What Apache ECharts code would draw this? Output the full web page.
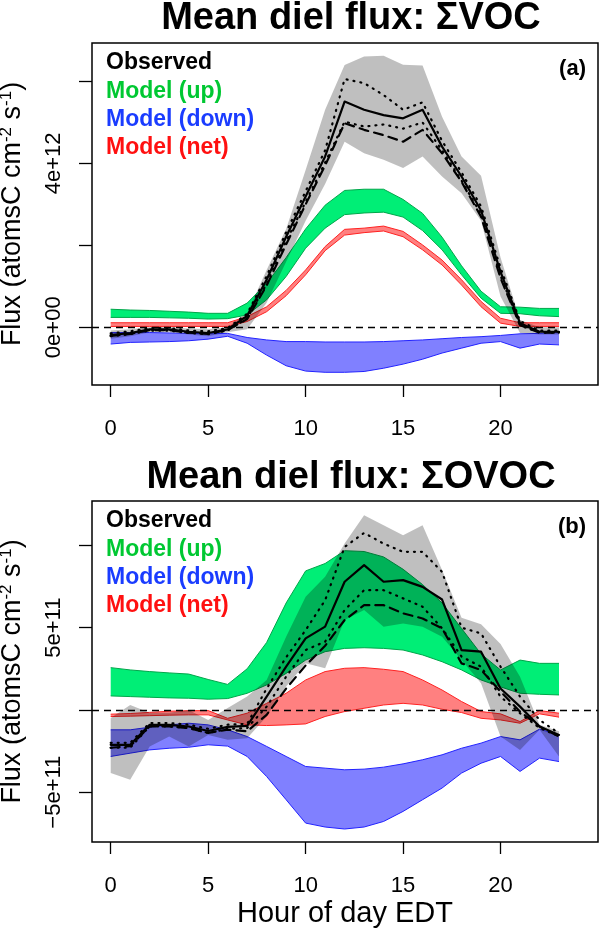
<!DOCTYPE html>
<html><head><meta charset="utf-8">
<script src="https://cdn.jsdelivr.net/npm/echarts@6/dist/echarts.min.js"></script>
<style>html,body{margin:0;padding:0;background:#fff}#c{width:600px;height:932px}</style>
</head><body><div id="c"></div>
<script>
// ---------- data ----------
const hours = [0,1,2,3,4,5,6,7,8,9,10,11,12,13,14,15,16,17,18,19,20,21,22,23];
const xTicks = [0,5,10,15,20];

// Panel (a): sum VOC, values in units of 1e12 atomsC cm-2 s-1
const vocTicks = [0,2,4,6];
const vocLabels = [0,4];
const vocUpHi   = [0.44,0.42,0.41,0.39,0.37,0.34,0.34,0.59,1.07,1.70,2.40,2.98,3.34,3.37,3.37,3.12,2.78,2.20,1.50,0.88,0.50,0.49,0.46,0.46];
const vocUpLo   = [0.24,0.24,0.24,0.23,0.22,0.20,0.21,0.30,0.67,1.24,1.93,2.42,2.75,2.79,2.81,2.69,2.36,1.89,1.28,0.71,0.34,0.33,0.28,0.26];
const vocNetHi  = [0.11,0.11,0.11,0.11,0.11,0.11,0.11,0.26,0.50,0.90,1.40,1.97,2.39,2.42,2.47,2.34,2.01,1.64,1.16,0.63,0.22,0.11,0.11,0.11];
const vocNetLo  = [0.02,0.02,0.02,0.02,0.02,0.02,0.02,0.14,0.38,0.77,1.28,1.87,2.25,2.31,2.35,2.21,1.89,1.52,1.03,0.50,0.10,0.02,0.02,0.02];
const vocDownHi = [-0.13,-0.13,-0.13,-0.14,-0.15,-0.16,-0.15,-0.25,-0.31,-0.35,-0.35,-0.36,-0.36,-0.36,-0.35,-0.33,-0.31,-0.28,-0.25,-0.23,-0.20,-0.16,-0.15,-0.13];
const vocDownLo = [-0.41,-0.37,-0.36,-0.35,-0.33,-0.29,-0.22,-0.39,-0.68,-0.94,-1.07,-1.10,-1.10,-1.08,-1.00,-0.90,-0.78,-0.63,-0.51,-0.39,-0.35,-0.51,-0.41,-0.43];
const vocObsGrayHi = [-0.08,-0.05,0.00,0.00,-0.03,-0.05,0.00,0.35,1.40,2.40,3.84,5.31,6.40,6.61,6.63,6.41,6.39,5.14,4.17,3.70,1.70,0.18,0.00,0.00];
const vocObsGrayLo = [-0.28,-0.22,-0.12,-0.12,-0.18,-0.22,-0.12,-0.05,0.60,1.60,2.60,3.50,4.53,4.25,4.09,3.89,4.17,3.68,3.27,2.60,0.75,-0.14,-0.18,-0.18];
const vocObsMean = [-0.19,-0.14,-0.05,-0.05,-0.11,-0.14,-0.05,0.28,1.16,2.21,3.19,4.17,5.51,5.31,5.18,5.10,5.31,4.41,3.68,2.85,1.35,0.10,-0.11,-0.11];
const vocObsHi   = [-0.15,-0.10,-0.02,-0.02,-0.08,-0.10,-0.02,0.33,1.25,2.32,3.32,4.32,6.06,5.96,5.67,5.31,5.49,4.55,3.78,2.95,1.45,0.15,-0.08,-0.08];
const vocObsLo   = [-0.22,-0.17,-0.08,-0.08,-0.14,-0.17,-0.08,0.22,1.06,2.10,3.06,4.02,5.02,4.90,4.95,4.85,5.00,4.32,3.58,2.76,1.26,0.05,-0.13,-0.13];
const vocObsMed  = [-0.21,-0.16,-0.07,-0.07,-0.13,-0.16,-0.07,0.20,1.02,2.02,3.00,3.95,4.98,4.82,4.69,4.53,4.82,4.25,3.55,2.70,1.20,0.05,-0.13,-0.13];

// Panel (b): sum OVOC, values in units of 1e11 atomsC cm-2 s-1
const ovocTicks = [-5,0,5,10];
const ovocLabels = [-5,5];
const ovocUpHi   = [2.57,2.43,2.33,2.25,2.18,1.85,1.55,2.50,4.10,6.50,8.45,8.90,9.68,9.63,9.30,8.55,7.62,6.50,4.95,3.40,2.43,3.03,2.83,2.83];
const ovocUpLo   = [0.85,0.81,0.77,0.73,0.71,0.65,0.69,1.01,1.52,2.22,3.03,3.54,3.74,3.78,3.74,3.64,3.34,2.93,2.43,1.82,1.40,1.01,0.95,0.91];
const ovocNetHi  = [-0.26,-0.22,-0.15,-0.08,-0.05,-0.04,-0.51,-0.20,0.40,1.01,1.82,2.33,2.53,2.57,2.47,2.33,1.82,1.21,0.51,-0.10,-0.24,-0.71,-0.04,-0.20];
const ovocNetLo  = [-0.40,-0.38,-0.35,-0.32,-0.30,-0.30,-0.61,-0.91,-0.95,-0.91,-0.85,-0.40,-0.10,0.10,0.30,0.40,0.30,0.04,-0.16,-0.51,-0.61,-0.81,-0.24,-0.44];
const ovocDownHi = [-1.21,-1.21,-1.05,-0.91,-0.81,-0.91,-1.21,-1.62,-2.22,-2.83,-3.44,-3.54,-3.64,-3.60,-3.48,-3.28,-3.03,-2.73,-2.33,-2.02,-1.62,-1.82,-1.17,-1.52];
const ovocDownLo = [-2.83,-2.63,-2.43,-2.33,-2.27,-2.12,-2.20,-2.83,-4.05,-5.46,-6.88,-7.12,-7.24,-7.12,-6.78,-6.17,-5.46,-4.75,-3.84,-3.24,-2.83,-3.74,-2.93,-3.14];
const ovocObsGrayHi = [-0.49,0.30,-0.18,-0.18,0.00,-0.61,0.12,0.81,1.82,4.45,6.88,8.09,10.11,11.83,11.23,10.62,11.23,8.50,5.60,5.20,4.00,2.02,-0.90,-1.30];
const ovocObsGrayLo = [-3.84,-4.25,-2.22,-1.62,-2.22,-1.52,-1.82,-1.72,-0.40,1.42,2.83,2.53,5.46,6.07,5.06,5.26,5.06,4.45,3.03,1.62,-1.62,-2.43,-1.21,-2.83];
const ovocObsMean = [-2.12,-2.12,-0.91,-0.91,-1.01,-1.28,-1.03,-0.97,0.81,2.63,4.35,5.06,7.79,8.80,7.79,7.89,7.48,6.71,3.64,3.54,1.30,0.20,-1.01,-1.52];
const ovocObsHi   = [-2.00,-2.00,-0.80,-0.80,-0.90,-1.15,-0.90,-0.85,1.30,3.20,4.85,6.67,9.91,10.76,10.11,9.61,9.61,8.39,5.00,4.65,2.63,0.81,-0.61,-1.42];
const ovocObsLo   = [-2.30,-2.30,-1.00,-1.00,-1.10,-1.40,-1.15,-1.10,0.20,2.02,3.64,4.15,6.07,7.28,7.28,6.78,6.27,4.96,3.24,2.63,0.80,-0.20,-1.10,-1.60];
const ovocObsMed  = [-2.30,-2.20,-1.00,-1.00,-1.10,-1.40,-1.20,-1.30,-0.30,1.30,2.70,3.90,5.46,6.37,6.37,5.87,5.56,4.96,2.83,2.43,1.11,-0.10,-1.01,-1.62];

// ---------- styling ----------
const FONT = 'Liberation Sans';
const GREEN_FILL = '#00EE76', GREEN_EDGE = '#00A64A';
const BLUE_FILL = '#8080FF', BLUE_EDGE = '#2222FF';
const RED_FILL = '#FF8080', RED_EDGE = '#FF2222';
const GRAY_FILL = 'rgba(0,0,0,0.25)';

function pairs(arr){ return hours.map((h,i)=>[h, arr[i]]); }

// band drawn as one polygon between lo and hi, using the axis scales (api.coord)
function band(g, lo, hi, fill, edge, z){
  return {
    type:'custom', xAxisIndex:g, yAxisIndex:g, z:z, silent:true, clip:true,
    data: hours.map((h,i)=>[h, lo[i], hi[i]]),
    encode:{x:0, y:[1,2]},
    renderItem: function(params, api){
      if (params.dataIndex !== 0) return null;
      const top = hours.map((h,i)=>api.coord([h, hi[i]]));
      const bot = hours.map((h,i)=>api.coord([h, lo[i]]));
      const poly = top.concat(bot.slice().reverse());
      const children = [{type:'polygon', shape:{points:poly}, style:{fill:fill, stroke:null}}];
      if (edge) {
        children.push({type:'polyline', shape:{points:top}, style:{stroke:edge, lineWidth:1, fill:null}});
        children.push({type:'polyline', shape:{points:bot}, style:{stroke:edge, lineWidth:1, fill:null}});
      }
      return {type:'group', children:children};
    }
  };
}
function obsLine(g, arr, type, extra){
  return Object.assign({type:'line', xAxisIndex:g, yAxisIndex:g, data:pairs(arr), symbol:'none', showSymbol:false,
    lineStyle:{color:'#000', width:2.2, type:type, cap:'round', join:'round'}, z:6, silent:true}, extra||{});
}
const zeroLine = {markLine:{silent:true, symbol:['none','none'], data:[{yAxis:0}], label:{show:false},
  lineStyle:{color:'#000', type:[7,5], width:1.3}, animation:false}};

function xAxis(g, withName){
  return {gridIndex:g, type:'value', min:-0.96, max:25.0,
    axisLine:{show:false, onZero:false}, splitLine:{show:false},
    axisTick:{show:true, customValues:xTicks, length:12, lineStyle:{color:'#000', width:1.3}},
    axisLabel:{customValues:xTicks, margin:33, fontSize:22, color:'#000', fontFamily:FONT},
    name: withName ? 'Hour of day EDT' : '', nameLocation:'middle', nameGap:57,
    nameTextStyle:{fontSize:29, color:'#000', fontFamily:FONT}};
}
function yAxis(g, min, max, ticks, labels, fmt){
  return {gridIndex:g, type:'value', min:min, max:max,
    axisLine:{show:false, onZero:false}, splitLine:{show:false},
    axisTick:{show:true, customValues:ticks, length:13, lineStyle:{color:'#000', width:1.3}},
    axisLabel:{customValues:labels, rotate:90, margin:27, fontSize:22, color:'#000', fontFamily:FONT, formatter:fmt},
    name:'Flux (atomsC cm{sup|-2} s{sup|-1})', nameLocation:'middle', nameGap:64, nameRotate:90,
    nameTextStyle:{fontSize:27, color:'#000', fontFamily:FONT, lineHeight:30,
      rich:{sup:{fontSize:17, verticalAlign:'top', lineHeight:30, color:'#000', fontFamily:FONT}}}};
}
function fmtA(v){ return v === 0 ? '0e+00' : v + 'e+12'; }
function fmtB(v){ return v < 0 ? '\u2212' + (-v) + 'e+11' : v + 'e+11'; }

function legendTexts(dy, tag){
  const items = [['Observed','#000',63], ['Model (up)','#00C832',92], ['Model (down)','#1A3CFF',120], ['Model (net)','#FF1010',148]];
  const out = items.map(it => ({type:'text', x:106, y:it[2]+dy, style:{text:it[0], fill:it[1],
    font:'bold 23px "' + FONT + '"', verticalAlign:'middle', align:'left'}, z:10}));
  out.push({type:'text', x:586, y:69+dy, style:{text:tag, fill:'#000', font:'bold 22px "' + FONT + '"',
    verticalAlign:'middle', align:'right'}, z:10});
  return out;
}

const series = [
  band(0, vocUpLo, vocUpHi, GREEN_FILL, GREEN_EDGE, 2),
  band(0, vocDownLo, vocDownHi, BLUE_FILL, BLUE_EDGE, 2),
  band(0, vocNetLo, vocNetHi, RED_FILL, RED_EDGE, 2),
  band(0, vocObsGrayLo, vocObsGrayHi, GRAY_FILL, null, 3),
  obsLine(0, vocObsHi, [1,6]), obsLine(0, vocObsLo, [1,6]), obsLine(0, vocObsMed, [9,6]), obsLine(0, vocObsMean, 'solid', zeroLine),
  band(1, ovocUpLo, ovocUpHi, GREEN_FILL, GREEN_EDGE, 2),
  band(1, ovocDownLo, ovocDownHi, BLUE_FILL, BLUE_EDGE, 2),
  band(1, ovocNetLo, ovocNetHi, RED_FILL, RED_EDGE, 2),
  band(1, ovocObsGrayLo, ovocObsGrayHi, GRAY_FILL, null, 3),
  obsLine(1, ovocObsHi, [1,6]), obsLine(1, ovocObsLo, [1,6]), obsLine(1, ovocObsMed, [9,6]), obsLine(1, ovocObsMean, 'solid', zeroLine)
];

const chart = echarts.init(document.getElementById('c'), null, {renderer:'canvas'});
chart.setOption({
  animation:false,
  backgroundColor:'#fff',
  title:[
    {text:'Mean diel flux: \u03A3VOC', left:346, top:-5, textAlign:'center',
     textStyle:{fontSize:38, fontWeight:'bold', color:'#000', fontFamily:FONT}},
    {text:'Mean diel flux: \u03A3OVOC', left:346, top:454, textAlign:'center',
     textStyle:{fontSize:38, fontWeight:'bold', color:'#000', fontFamily:FONT}}
  ],
  grid:[
    {left:92, top:43, width:506, height:342, show:true, borderColor:'#000', borderWidth:1.5,
     backgroundColor:'rgba(0,0,0,0)', containLabel:false, outerBoundsMode:'none'},
    {left:92, top:501, width:506, height:341, show:true, borderColor:'#000', borderWidth:1.5,
     backgroundColor:'rgba(0,0,0,0)', containLabel:false, outerBoundsMode:'none'}
  ],
  xAxis:[xAxis(0,false), xAxis(1,true)],
  yAxis:[yAxis(0,-1.41,6.94,vocTicks,vocLabels,fmtA), yAxis(1,-8.03,12.7,ovocTicks,ovocLabels,fmtB)],
  series:series,
  graphic:[].concat(legendTexts(0,'(a)'), legendTexts(458,'(b)'))
});
</script></body></html>
